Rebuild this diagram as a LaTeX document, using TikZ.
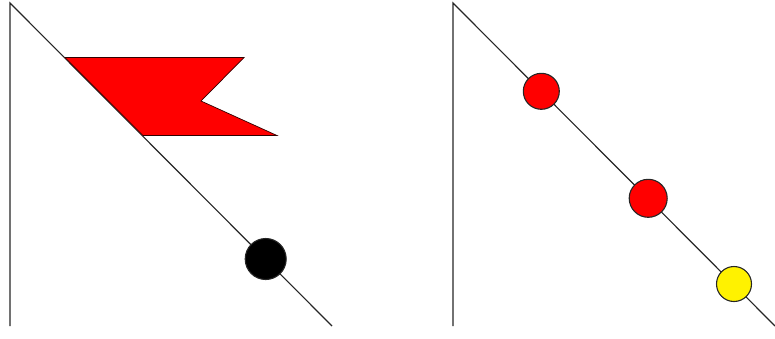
\documentclass[tikz,border=0pt]{standalone}
\begin{document}
\begin{tikzpicture}[x=1pt,y=-1pt,
  pole/.style={draw=black!85,line width=1.15pt},
  flagshape/.style={fill=red,draw=black!80!red,line width=0.7pt,line join=miter},
  bead/.style={circle,draw=black!85,line width=1.1pt,inner sep=0pt,minimum size=#1}]
\useasboundingbox (0,0) rectangle (775,338);
\coordinate (a1) at (10,3);
\coordinate (a2) at (10,326);
\coordinate (a3) at (332,326);
\coordinate (b1) at (453,3);
\coordinate (b2) at (453,326);
\coordinate (b3) at (775,326);
\draw[pole] (a2) -- (a1) -- (a3);
\draw[pole] (b2) -- (b1) -- (b3);
\filldraw[flagshape] (65,57.5) -- (244,57.5) -- (201,101) -- (277,135.5) -- (143,135.5) -- cycle;
\node[bead=41pt,fill=black] (k) at (265.7,259) {};
\node[bead=36pt,fill=red] (r1) at (541.3,91.3) {};
\node[bead=38pt,fill=red] (r2) at (648.2,198.3) {};
\node[bead=35pt,fill=yellow] (y) at (734,284) {};
\end{tikzpicture}
\end{document}
